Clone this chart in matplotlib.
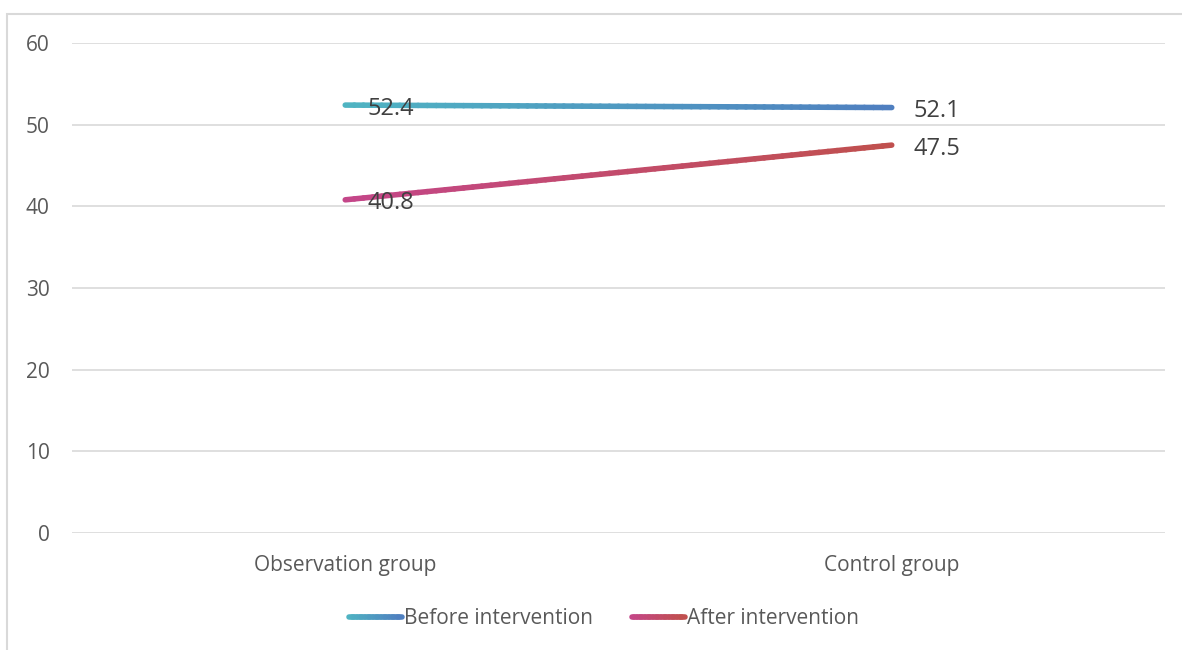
import matplotlib
matplotlib.use('Agg')
import matplotlib.pyplot as plt
import numpy as np
from matplotlib.collections import LineCollection
from matplotlib.colors import to_rgb
from matplotlib.legend_handler import HandlerBase
from matplotlib.patches import Rectangle

plt.rcParams['font.family'] = ['Open Sans', 'DejaVu Sans']

# 数据
groups = ['Observation group', 'Control group']
before = [52.4, 52.1]
after = [40.8, 47.5]
series_names = ['Before intervention', 'After intervention']

# 渐变色（起点, 终点）
before_colors = ('#4fb4c2', '#4f7fc0')
after_colors = ('#c4468a', '#c0504d')

LW = 4.0
N_SEG = 60


def gradient_line(ax, xs, ys, c0, c1, lw=LW):
    """用很多小线段拼出渐变折线"""
    t = np.linspace(0, 1, N_SEG + 1)
    x = np.interp(t, [0, 1], xs)
    y = np.interp(t, [0, 1], ys)
    pts = np.column_stack([x, y]).reshape(-1, 1, 2)
    segs = np.concatenate([pts[:-1], pts[1:]], axis=1)
    a, b = np.array(to_rgb(c0)), np.array(to_rgb(c1))
    tm = (t[:-1] + t[1:]) / 2
    cols = a[None, :] * (1 - tm[:, None]) + b[None, :] * tm[:, None]
    lc = LineCollection(segs, colors=cols, linewidths=lw, capstyle='round', zorder=3)
    ax.add_collection(lc)
    lc.grad_colors = (c0, c1)
    return lc


class GradientHandler(HandlerBase):
    def create_artists(self, legend, orig_handle, xdescent, ydescent,
                       width, height, fontsize, trans):
        c0, c1 = orig_handle.grad_colors
        n = 20
        xs = np.linspace(-xdescent, -xdescent + width, n + 1)
        yc = -ydescent + height / 2
        segs = [[(xs[i], yc), (xs[i + 1], yc)] for i in range(n)]
        a, b = np.array(to_rgb(c0)), np.array(to_rgb(c1))
        tm = (np.arange(n) + 0.5) / n
        cols = a[None, :] * (1 - tm[:, None]) + b[None, :] * tm[:, None]
        lc = LineCollection(segs, colors=cols, linewidths=LW, capstyle='round',
                            transform=trans)
        return [lc]


fig = plt.figure(figsize=(11.82, 6.5), dpi=100)
ax = fig.add_axes([0.0609, 0.18, 0.9247, 0.7538])

x = np.arange(len(groups))
lc1 = gradient_line(ax, x, before, *before_colors)
lc2 = gradient_line(ax, x, after, *after_colors)

for vals in (before, after):
    for xi, v in zip(x, vals):
        ax.annotate(f'{v}', (xi, v), xytext=(16, -2.5), textcoords='offset points',
                    ha='left', va='center', fontsize=17, color='#404040', zorder=4)

ax.set_xlim(-0.5, 1.5)
ax.set_ylim(0, 60)
ax.set_yticks(range(0, 61, 10))
ax.set_xticks(x)
ax.set_xticklabels(groups)
ax.yaxis.grid(True, color='#d9d9d9', linewidth=1.2)
ax.set_axisbelow(True)
for s in ['top', 'right', 'left', 'bottom']:
    ax.spines[s].set_visible(False)
ax.tick_params(axis='both', length=0, labelsize=15, colors='#595959')
ax.tick_params(axis='x', pad=16)
ax.tick_params(axis='y', pad=16)

leg = fig.legend([lc1, lc2], series_names, loc='center', bbox_to_anchor=(0.511, 0.048),
                 ncol=2, frameon=False, fontsize=15, handlelength=2.55,
                 handletextpad=0.1, columnspacing=1.85,
                 handler_map={lc1: GradientHandler(), lc2: GradientHandler()})
for t in leg.get_texts():
    t.set_color('#595959')

# 外框
fig.patches.append(Rectangle((7 / 1182, -0.1), 1.2, 1 - 14 / 650 + 0.1,
                             transform=fig.transFigure, fill=False,
                             edgecolor='#d9d9d9', linewidth=1.5))

fig.savefig('out.png', dpi=100)
